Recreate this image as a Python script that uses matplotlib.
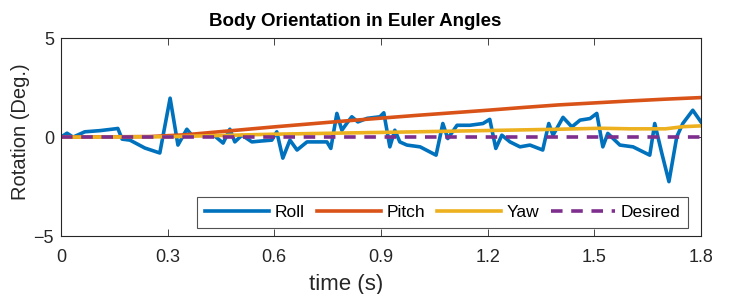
import matplotlib
matplotlib.use("Agg")
import matplotlib.pyplot as plt

plt.rcParams['font.family'] = ['Liberation Sans', 'DejaVu Sans']

# Roll
t_roll = [0.0, 0.017, 0.034, 0.067, 0.11, 0.152, 0.16, 0.172, 0.194, 0.236, 0.278,
          0.307, 0.329, 0.354, 0.368, 0.391, 0.433, 0.456, 0.475, 0.489, 0.509,
          0.537, 0.56, 0.593, 0.607, 0.624, 0.644, 0.664, 0.692, 0.748, 0.759,
          0.776, 0.79, 0.804, 0.818, 0.835, 0.861, 0.897, 0.908, 0.925, 0.939,
          0.953, 0.973, 1.01, 1.055, 1.074, 1.088, 1.114, 1.15, 1.187, 1.206,
          1.223, 1.24, 1.263, 1.291, 1.319, 1.355, 1.372, 1.384, 1.412, 1.437,
          1.46, 1.488, 1.507, 1.524, 1.538, 1.572, 1.609, 1.656, 1.67, 1.69,
          1.71, 1.732, 1.749, 1.777, 1.8]
roll = [0.0, 0.2, 0.0, 0.27, 0.33, 0.42, 0.44, -0.1, -0.15, -0.55, -0.8,
        1.97, -0.4, 0.4, 0.1, 0.1, 0.05, -0.3, 0.4, -0.24, 0.1,
        -0.24, -0.2, -0.15, 0.27, -1.06, -0.15, -0.65, -0.24, -0.24, -0.57,
        1.2, 0.35, 0.7, 1.03, 0.77, 0.95, 1.03, 1.23, -0.49, 0.35,
        -0.24, -0.4, -0.49, -0.91, 0.69, -0.07, 0.6, 0.6, 0.69, 0.9,
        -0.57, 0.1, -0.24, -0.49, -0.4, -0.65, 0.69, 0.1, 1.0, 0.52,
        0.86, 0.94, 1.2, -0.49, 0.19, -0.4, -0.49, -0.91, 0.69, -0.82,
        -2.25, 0.02, 0.69, 1.36, 0.77]

# Pitch
t_pitch = [0.0, 0.25, 0.35, 0.4, 0.5, 0.6, 0.7, 0.8, 0.9, 1.0, 1.1, 1.2, 1.3,
           1.4, 1.5, 1.6, 1.7, 1.8]
pitch = [0.0, 0.03, 0.12, 0.2, 0.36, 0.52, 0.67, 0.82, 0.96, 1.1, 1.23, 1.36,
         1.5, 1.63, 1.73, 1.83, 1.92, 2.0]

# Yaw
t_yaw = [0.0, 0.3, 0.6, 1.0, 1.4, 1.52, 1.6, 1.7, 1.75, 1.8]
yaw = [0.0, 0.02, 0.15, 0.27, 0.4, 0.45, 0.42, 0.42, 0.53, 0.57]

# Desired
t_des = [0.0, 1.8]
desired = [0.0, 0.0]

x_ticks = [0, 0.3, 0.6, 0.9, 1.2, 1.5, 1.8]
x_ticklabels = ['0', '0.3', '0.6', '0.9', '1.2', '1.5', '1.8']
y_ticks = [-5, 0, 5]

fig = plt.figure(figsize=(7.31, 2.94), dpi=100)
ax = fig.add_axes([0.0834, 0.197, 0.8755, 0.673])

ax.plot(t_roll, roll, color='#0072BD', lw=2.6, label='Roll', solid_joinstyle='round')
ax.plot(t_pitch, pitch, color='#D95319', lw=2.6, label='Pitch')
ax.plot(t_yaw, yaw, color='#EDB120', lw=2.6, label='Yaw')
ax.plot(t_des, desired, color='#7E2F8E', lw=2.6, ls=(0, (3.2, 2.4)), label='Desired')

ax.set_xlim(0, 1.8)
ax.set_ylim(-5, 5)
ax.set_xticks(x_ticks)
ax.set_xticklabels(x_ticklabels)
ax.set_yticks(y_ticks)
ax.tick_params(direction='in', top=True, right=True, labelsize=13, length=5,
               width=0.6, colors='#262626')
ax.tick_params(axis='x', pad=9)
ax.tick_params(axis='y', pad=5)
for s in ax.spines.values():
    s.set_linewidth(0.8)
    s.set_color('#262626')

ax.set_title('Body Orientation in Euler Angles', fontsize=13.5, fontweight='bold',
             x=0.46, pad=9)
ax.set_xlabel('time (s)', fontsize=16, color='#262626')
ax.xaxis.set_label_coords(0.445, -0.19)
ax.xaxis.label.set_va('top')
ax.set_ylabel('Rotation (Deg.)', fontsize=14.5, color='#262626')
ax.yaxis.set_label_coords(-0.048, 0.53)

leg = ax.legend(loc='lower right', ncol=4, fontsize=12.5, handlelength=3.7,
                handletextpad=0.3, columnspacing=0.7, frameon=True, fancybox=False,
                borderpad=0.45, borderaxespad=0, bbox_to_anchor=(0.98, 0.04))
leg.get_frame().set_edgecolor('#262626')
leg.get_frame().set_linewidth(0.8)

fig.savefig('out.png', dpi=100)
